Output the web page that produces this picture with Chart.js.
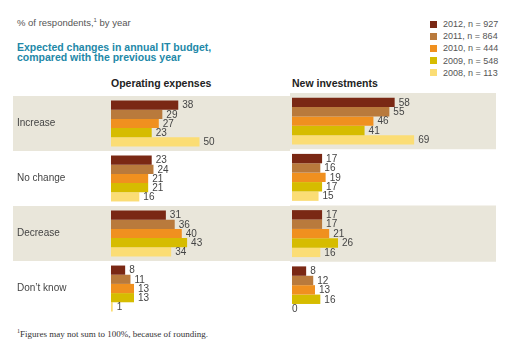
<!DOCTYPE html>
<html><head><meta charset="utf-8">
<script src="https://cdn.jsdelivr.net/npm/chart.js@4"></script>
<style>
html,body{margin:0;padding:0;background:#fff;width:510px;height:356px;overflow:hidden;font-family:"Liberation Sans",Arial,sans-serif;}
.t{position:absolute;white-space:nowrap;}
canvas{position:absolute;}
</style></head><body>
<div class="t" style="left:17px;top:17px;font-size:9.5px;color:#555;">% of respondents,<sup style="font-size:6px;">1</sup> by year</div>
<div class="t" style="left:17px;top:42px;font-size:10.5px;line-height:10px;font-weight:bold;color:#2288a8;">Expected changes in annual IT budget,<br>compared with the previous year</div>
<div class="t" style="left:111px;top:77px;font-size:10.5px;font-weight:bold;color:#222;">Operating expenses</div>
<div class="t" style="left:292px;top:77px;font-size:10.5px;font-weight:bold;color:#222;">New investments</div>
<div id="legend"></div>
<div class="t" style="left:17px;top:328px;font-size:9px;color:#333;font-family:'Liberation Serif','DejaVu Serif',serif;"><sup style="font-size:6px;">1</sup>Figures may not sum to 100%, because of rounding.</div>
<div style="position:absolute;left:0;top:90px;width:290px;height:232px;"><canvas id="c1"></canvas></div>
<div style="position:absolute;left:290px;top:90px;width:220px;height:232px;"><canvas id="c2"></canvas></div>
<script>
const categories = ["Increase", "No change", "Decrease", "Don\u2019t know"];
const seriesLabels = ["2012, n = 927", "2011, n = 864", "2010, n = 444", "2009, n = 548", "2008, n = 113"];
const seriesColors = ["#7a2814", "#b97a3c", "#f0901f", "#d6bc00", "#fbdd75"];
// Operating expenses, per year, per category
const opex2012 = [38, 23, 31, 8];
const opex2011 = [29, 24, 36, 11];
const opex2010 = [27, 21, 40, 13];
const opex2009 = [23, 21, 43, 13];
const opex2008 = [50, 16, 34, 1];
// New investments
const inv2012 = [58, 17, 17, 8];
const inv2011 = [55, 16, 17, 12];
const inv2010 = [46, 19, 21, 13];
const inv2009 = [41, 17, 26, 16];
const inv2008 = [69, 15, 16, 0];

const opex = [opex2012, opex2011, opex2010, opex2009, opex2008];
const inv = [inv2012, inv2011, inv2010, inv2009, inv2008];

const lg = document.getElementById('legend');
seriesLabels.forEach((s, i) => {
  const d = document.createElement('div');
  d.className = 't';
  d.style.cssText = `left:430px;top:${19 + i * 12.2}px;font-size:9px;color:#555;line-height:10px;`;
  d.innerHTML = `<span style="display:inline-block;width:7px;height:7px;background:${seriesColors[i]};margin-right:6px;vertical-align:-0.5px;"></span>${s}`;
  lg.appendChild(d);
});

const bandPlugin = {
  id: 'bands',
  beforeDraw(chart, args, opts) {
    const ctx = chart.ctx, y = chart.scales.y;
    const step = y.getPixelForValue(1) - y.getPixelForValue(0);
    ctx.save();
    ctx.fillStyle = '#e9e6da';
    [0, 2].forEach(i => {
      const c = y.getPixelForValue(i);
      ctx.fillRect(opts.x0, c - step / 2, opts.x1 - opts.x0, step);
    });
    ctx.restore();
  }
};
const valuePlugin = {
  id: 'vals',
  afterDatasetsDraw(chart) {
    const ctx = chart.ctx;
    ctx.save();
    ctx.font = '10px "Liberation Sans", Arial, sans-serif';
    ctx.fillStyle = '#444';
    ctx.textBaseline = 'middle';
    chart.data.datasets.forEach((ds, di) => {
      chart.getDatasetMeta(di).data.forEach((bar, i) => {
        const v = ds.data[i];
        const x = v === 0 ? bar.base : bar.x + 4;
        ctx.fillText(String(v), x, bar.y + 0.5);
      });
    });
    ctx.restore();
  }
};

function makeChart(id, data, showY, x0, x1, leftPad, rightPad) {
  return new Chart(document.getElementById(id), {
    type: 'bar',
    data: {
      labels: categories,
      datasets: data.map((d, i) => ({
        label: seriesLabels[i], data: d, backgroundColor: seriesColors[i],
        borderWidth: 0, barPercentage: 1.0, categoryPercentage: 0.835
      }))
    },
    options: {
      indexAxis: 'y', responsive: true, maintainAspectRatio: false, animation: false,
      layout: { padding: { left: leftPad, right: rightPad, top: 3, bottom: 4 } },
      plugins: { legend: { display: false }, tooltip: { enabled: false }, bands: { x0, x1 } },
      scales: {
        x: { min: 0, max: 100, display: false },
        y: {
          display: showY, border: { display: false }, grid: { display: false },
          afterFit: s => { if (showY) s.width = 111 - 17; },
          ticks: { color: '#444', font: { size: 10, family: '"Liberation Sans", Arial, sans-serif' }, crossAlign: 'far', padding: 0 }
        }
      }
    },
    plugins: [bandPlugin, valuePlugin]
  });
}
// both panels: 100% spans 177 px
makeChart('c1', opex, true, 13, 290, 17, 2);
makeChart('c2', inv, false, 0, 206, 2, 41);
</script>
</body></html>
